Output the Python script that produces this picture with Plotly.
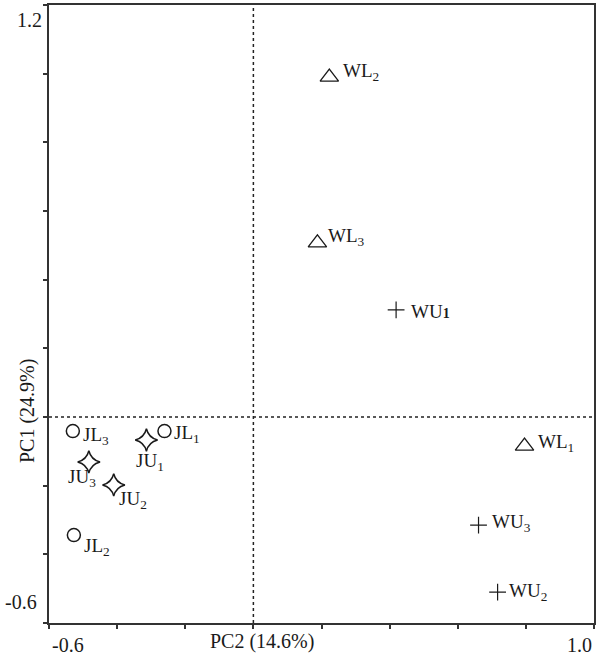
import plotly.graph_objects as go

# Data (PC2 = x, PC1 = y)
jl_names = ["JL<sub>1</sub>", "JL<sub>2</sub>", "JL<sub>3</sub>"]
jl_x = [-0.261, -0.527, -0.530]
jl_y = [-0.041, -0.344, -0.041]

ju_names = ["JU<sub>1</sub>", "JU<sub>2</sub>", "JU<sub>3</sub>"]
ju_x = [-0.314, -0.410, -0.483]
ju_y = [-0.067, -0.198, -0.131]

wl_names = ["WL<sub>1</sub>", "WL<sub>2</sub>", "WL<sub>3</sub>"]
wl_x = [0.796, 0.223, 0.188]
wl_y = [-0.085, 0.990, 0.507]

wu_names = ['WU<span style="font-size:14px"><b>1</b></span>', "WU<sub>2</sub>", "WU<sub>3</sub>"]
wu_x = [0.419, 0.717, 0.661]
wu_y = [0.312, -0.510, -0.315]

x_range = [-0.6, 1.0]
y_range = [-0.6, 1.2]
x_title = "PC2 (14.6%)"
y_title = "PC1 (24.9%)"

FONT = "Liberation Serif, Times New Roman, serif"
INK = "#1a1a1a"
TXT = dict(family=FONT, size=20, color=INK)
LBL = dict(family=FONT, size=19, color=INK)

# label placement (pixel offsets: xanchor, xshift, yshift)
jl_off = [("left", 8, -3), ("left", 8, -12), ("left", 8, -5)]
ju_off = [("center", 4, -22), ("left", 3, -15), ("center", -7, -16)]
wl_off = [("left", 11, 3), ("left", 12, 5), ("left", 9, 6)]
wu_off = [("left", 13, -2), ("left", 9, 0), ("left", 11, 2)]

fig = go.Figure()
groups = [
    (jl_x, jl_y, jl_names, jl_off, dict(symbol="circle-open", size=13, line=dict(width=1.5))),
    (ju_x, ju_y, ju_names, ju_off, dict(symbol="star-diamond-open", size=16, line=dict(width=1.5))),
    (wl_x, wl_y, wl_names, wl_off, dict(symbol="triangle-up-open", size=16, line=dict(width=1.3))),
    (wu_x, wu_y, wu_names, wu_off, dict(symbol="cross-thin-open", size=12, line=dict(width=1.2))),
]
for gx, gy, names, offs, mk in groups:
    mk["color"] = INK
    fig.add_trace(go.Scatter(x=gx, y=gy, mode="markers", marker=mk, showlegend=False,
                             hoverinfo="text", text=names))
    for xi, yi, name, (anc, dx, dy) in zip(gx, gy, names, offs):
        fig.add_annotation(x=xi, y=yi, xref="x", yref="y", text=name, showarrow=False,
                           xanchor=anc, yanchor="middle", xshift=dx, yshift=dy, font=LBL)

# dashed zero lines
fig.add_shape(type="line", x0=0, x1=0, y0=y_range[0], y1=y_range[1], xref="x", yref="y",
              line=dict(color="#222", width=1.5, dash="dot"))
fig.add_shape(type="line", x0=x_range[0], x1=x_range[1], y0=0, y1=0, xref="x", yref="y",
              line=dict(color="#222", width=1.5, dash="dot"))

# corner tick labels
fig.add_annotation(text=str(y_range[1]), xref="paper", yref="paper", x=0, y=1, xanchor="right",
                   yanchor="middle", xshift=-5, yshift=-15, showarrow=False, font=TXT)
fig.add_annotation(text=str(y_range[0]), xref="paper", yref="paper", x=0, y=0, xanchor="right",
                   yanchor="middle", xshift=-10, yshift=21, showarrow=False, font=TXT)
fig.add_annotation(text=str(x_range[0]), xref="paper", yref="paper", x=0, y=0, xanchor="left",
                   yanchor="middle", xshift=1, yshift=-22, showarrow=False, font=TXT)
fig.add_annotation(text=str(x_range[1]), xref="paper", yref="paper", x=1, y=0, xanchor="right",
                   yanchor="middle", xshift=0, yshift=-22, showarrow=False, font=TXT)
# axis titles
fig.add_annotation(text=x_title, xref="paper", yref="paper", x=0.39, y=0, xanchor="center",
                   yanchor="middle", yshift=-18, showarrow=False, font=TXT)
fig.add_annotation(text=y_title, xref="paper", yref="paper", x=0, y=0.343, xanchor="center",
                   yanchor="middle", xshift=-22, textangle=-90, showarrow=False, font=TXT)

axis_common = dict(showgrid=False, zeroline=False, showticklabels=False, ticks="outside",
                   ticklen=4, tickwidth=1.5, tickcolor="#333", showline=True, linecolor="#333",
                   linewidth=2, mirror=True, dtick=0.2)
fig.update_xaxes(range=x_range, tick0=-0.6, **axis_common)
fig.update_yaxes(range=y_range, tick0=-0.6, **axis_common)

fig.update_layout(width=598, height=657, margin=dict(l=49, r=2, t=5, b=34),
                  plot_bgcolor="white", paper_bgcolor="white", font=TXT)
fig.write_html("out.html", config={"displayModeBar": False},
               post_script="document.body.style.margin='0';document.body.style.padding='0';")
